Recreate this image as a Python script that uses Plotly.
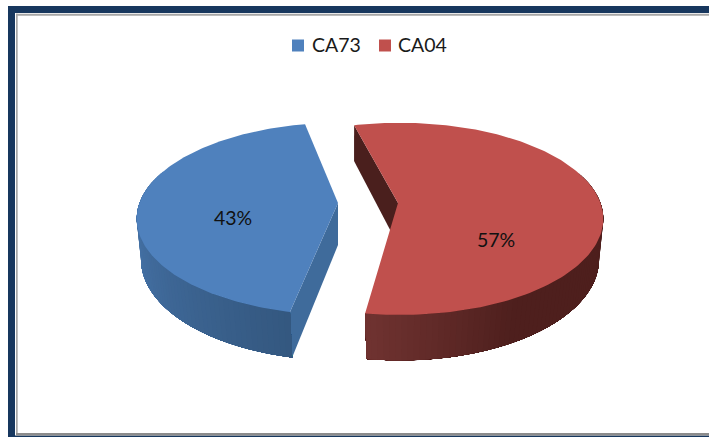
import numpy as np
import plotly.graph_objects as go

# --- data ---
categories = ["CA73", "CA04"]
values = [43.4, 56.6]          # shown rounded, as 43% and 57%
top_colors = ["#4f81bd", "#c0504d"]

# --- 3D pie look (drawn on a pixel-sized axis) ---
mid_angle = [270.2, 86.5]      # direction each exploded slice faces
apex_x = [338, 398]
rim_x = [340, 400]
apex_y = 203
label_xy = [(233, 217.5), (496, 239.5)]
key_marker_x = [298, 385]
key_text_x = [312, 398]
key_y = 45.5
A, B, K = 200.5, 93.5, 0.165     # top rim
A2, B2, K2, DROP = 197, 99, 0.142, 42   # bottom rim
FONT = "Lato, Carlito, sans-serif"


def rim(cx, theta_deg, bottom=False):
    t = np.radians(theta_deg)
    X, Y = np.sin(t), -np.cos(t)
    if bottom:
        w = 1 - K2 * Y
        return cx + A2 * X / w, apex_y + DROP + B2 * Y / w
    w = 1 - K * Y
    return cx + A * X / w, apex_y + B * Y / w


def lerp(c1, c2, f):
    f = min(max(f, 0), 1)
    return "rgb(%d,%d,%d)" % tuple(round(a + (b - a) * f) for a, b in zip(c1, c2))


def poly(fig, xs, ys, color):
    fig.add_trace(go.Scatter(x=list(xs), y=list(ys), mode="lines", fill="toself", fillcolor=color,
                             line=dict(color=color, width=0), showlegend=False, hoverinfo="skip"))


fig = go.Figure()
spans = [v / sum(values) * 360 for v in values]
starts = [m - s / 2 for m, s in zip(mid_angle, spans)]

# wall shade along the arc, running from the slice's first edge to its last
wall_style = [
    lambda th: lerp((52, 88, 128), (72, 118, 172), (th - 192) / 78),
    lambda th: lerp((78, 31, 29), (114, 52, 50), (th - 150) / 40),
]
cut_color = ["#3f6b9b", "#4a1f1d"]

for i in range(2):
    cx, rx0 = apex_x[i], rim_x[i]
    s, e = starts[i], starts[i] + spans[i]
    # straight cut wall
    tx, ty = rim(rx0, s)
    bx, by = rim(rx0, s, True)
    poly(fig, [cx, tx, bx, cx, cx], [apex_y, ty, by, apex_y + DROP, apex_y], cut_color[i])
    # curved wall built of overlapping bands, so no seams show
    vis = np.arange(s, e, 1.5)
    vis = vis[-np.cos(np.radians(vis)) > -0.35]
    if i == 0:
        # blue: paint from the far end towards the front edge
        for a in vis[::-1]:
            th = np.linspace(s, a + 1.5, 60)
            ux, uy = rim(rx0, th)
            lx, ly = rim(rx0, th, True)
            poly(fig, np.r_[ux, lx[::-1]], np.r_[uy, ly[::-1]], wall_style[i](a))
    else:
        for a in vis:
            th = np.linspace(a, e, 60)
            ux, uy = rim(rx0, th)
            lx, ly = rim(rx0, th, True)
            poly(fig, np.r_[ux, lx[::-1]], np.r_[uy, ly[::-1]], wall_style[i](a))
    # top face
    th = np.linspace(s, e, 160)
    rx, ry = rim(rx0, th)
    poly(fig, np.r_[cx, rx, cx], np.r_[apex_y, ry, apex_y], top_colors[i])

# colour key
for name, color, mx in zip(categories, top_colors, key_marker_x):
    fig.add_trace(go.Scatter(x=[mx], y=[key_y], mode="markers", name=name, showlegend=False,
                             marker=dict(symbol="square", size=12, color=color, line_width=0)))

annotations = [dict(x=x, y=y, text=f"{round(v)}%", showarrow=False, xref="x", yref="y",
                    font=dict(family=FONT, size=19.5, color="#111111"))
               for (x, y), v in zip(label_xy, values)]
annotations += [dict(x=x, y=key_y, text=n, showarrow=False, xref="x", yref="y", xanchor="left",
                     xshift=-2, yshift=1.5, font=dict(family=FONT, size=19.5, color="#1a1a1a"))
                for x, n in zip(key_text_x, categories)]

navy, gray = "#17375e", "#a6a6a6"
shapes = [
    dict(type="rect", x0=8, x1=709, y0=6, y1=13, fillcolor=navy, line_width=0, layer="below"),
    dict(type="rect", x0=8, x1=15, y0=6, y1=437, fillcolor=navy, line_width=0, layer="below"),
    dict(type="rect", x0=8, x1=709, y0=435.4, y1=437, fillcolor=navy, line_width=0, layer="below"),
    dict(type="rect", x0=16, x1=709, y0=13.7, y1=15.7, fillcolor=gray, line_width=0, layer="below"),
    dict(type="rect", x0=16, x1=17.7, y0=13.7, y1=435, fillcolor=gray, line_width=0, layer="below"),
    dict(type="rect", x0=16, x1=709, y0=433, y1=435.4, fillcolor="#8c8c8c", line_width=0, layer="below"),
]

fig.update_layout(
    width=709, height=437, autosize=False,
    margin=dict(l=0, r=0, t=0, b=0),
    paper_bgcolor="white", plot_bgcolor="white",
    xaxis=dict(range=[0, 709], visible=False, fixedrange=True),
    yaxis=dict(range=[437, 0], visible=False, fixedrange=True),
    annotations=annotations, shapes=shapes, showlegend=False,
)
fig.write_html("out.html", config=dict(displayModeBar=False),
               post_script="document.body.style.margin='0';document.body.style.overflow='hidden';")
